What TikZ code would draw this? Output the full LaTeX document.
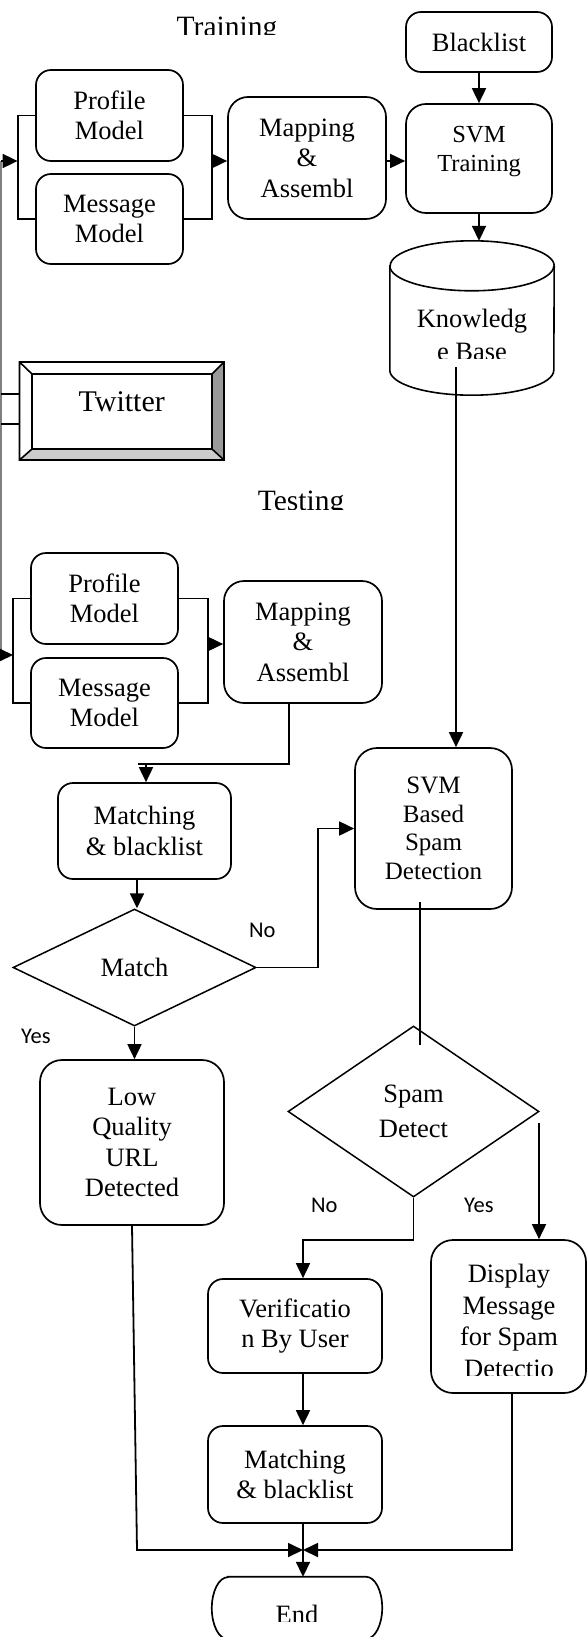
\documentclass[tikz,border=0pt]{standalone}
\usepackage{fontspec}
\setmainfont{Liberation Serif}
\newfontfamily\labelfont{Carlito}
\usetikzlibrary{shapes.geometric,arrows.meta,calc}

\tikzset{
  fs/.style={font=\fontsize{26.5}{30.5}\selectfont},
  box/.style={draw, rounded corners=15pt, line width=1.7pt, inner sep=0pt, align=center, fill=white, fs},
  decision/.style={draw, diamond, line width=1.5pt, inner sep=0pt, align=center, fs},
  plain/.style={inner sep=0pt, align=center, fs},
  title/.style={inner sep=0pt, anchor=base, font=\fontsize{29.5}{34}\selectfont},
  yesno/.style={inner sep=0pt, anchor=base west, font=\labelfont\fontsize{22.5}{26}\selectfont},
  conn/.style={line width=1.8pt},
  arr/.style={conn, -{Triangle[length=15pt,width=14pt]}},
  feed/.style={line width=1.8pt, draw=black!50},
}

\begin{document}
\begin{tikzpicture}[x=1pt,y=-1pt]
\useasboundingbox (0,0) rectangle (587,1637);
\fill[white] (0,0) rectangle (587,1637);

% ---------- training part ----------
\begin{scope}
  \clip (140,0) rectangle (320,35);
  \node[title] (trainlbl) at (227,36.5) {Training};
\end{scope}

\node[box, minimum width=146pt, minimum height=60pt] (blacklist) at (479,42) {Blacklist};
\node[box, minimum width=147pt, minimum height=91pt] (profT) at (109.5,115.5) {Profile\\Model};
\node[box, minimum width=147pt, minimum height=90pt] (msgT) at (109.5,219) {Message\\Model};
\node[box, rounded corners=20pt, minimum width=158pt, minimum height=122pt] (mapT) at (307,158) {Mapping\\\&\\Assembl};
\node[box, rounded corners=20pt, minimum width=146pt, minimum height=109pt,
      font=\fontsize{24.5}{29}\selectfont, text depth=18.3pt] (svmT) at (479,158.5) {SVM\\Training};

% knowledge base cylinder
\node[minimum width=164pt, minimum height=104pt, inner sep=0pt] (kb) at (472,318) {};
\filldraw[fill=white, line width=1.6pt] (kb.north west) -- (kb.south west)
  arc[start angle=180, end angle=360, x radius=82pt, y radius=25pt] -- (kb.north east)
  arc[start angle=0, end angle=180, x radius=82pt, y radius=25pt] -- cycle;
\draw[line width=1.6pt] (kb.north west) arc[start angle=180, end angle=360, x radius=82pt, y radius=25pt];
\coordinate (kbtop) at ([yshift=25pt]kb.north);
\begin{scope}
  \clip (380,292) rectangle (564,358);
  \node[plain] (kbtext) at (472,334.75) {Knowledg\\[2.5pt]e Base};
\end{scope}
\coordinate (kbout) at (456,367);

% Twitter source with bevelled frame
\coordinate (oNW) at (19.5,362); \coordinate (oNE) at (224,362);
\coordinate (oSE) at (224,460);  \coordinate (oSW) at (19.5,460);
\coordinate (iNW) at (32,374);   \coordinate (iNE) at (212,374);
\coordinate (iSE) at (212,449);  \coordinate (iSW) at (32,449);
\fill[white] (oNW) rectangle (oSE);
\fill[black!40] (oNE) -- (oSE) -- (iSE) -- (iNE) -- cycle;
\fill[black!20] (oSW) -- (oSE) -- (iSE) -- (iSW) -- cycle;
\draw[line width=1.6pt] (oNW) rectangle (oSE) (iNW) rectangle (iSE)
  (oNW) -- (iNW) (oNE) -- (iNE) (oSE) -- (iSE) (oSW) -- (iSW);
\node[inner sep=0pt, minimum width=204.5pt, minimum height=98pt,
      font=\fontsize{30}{34}\selectfont, text depth=18.5pt] (tw) at (121.75,411) {Twitter};

% ---------- testing part ----------
\begin{scope}
  \clip (230,480) rectangle (380,509.5);
  \node[title] (testlbl) at (301,510.5) {Testing};
\end{scope}

\node[box, minimum width=147pt, minimum height=91pt] (profS) at (104.5,598.5) {Profile\\Model};
\node[box, minimum width=147pt, minimum height=90pt] (msgS) at (104.5,703) {Message\\Model};
\node[box, rounded corners=20pt, minimum width=158pt, minimum height=122pt] (mapS) at (303,642) {Mapping\\\&\\Assembl};
\node[box, minimum width=173pt, minimum height=96pt] (match1) at (144.5,831) {Matching\\\& blacklist};
\node[decision, minimum width=243pt, minimum height=117pt] (matchD) at (134.5,967.5) {Match};
\node[box, rounded corners=22pt, minimum width=157pt, minimum height=161pt,
      font=\fontsize{25}{28.5}\selectfont] (svmB) at (433.5,828.5) {SVM\\Based\\Spam\\Detection};
\node[box, rounded corners=22pt, minimum width=184pt, minimum height=165pt] (lowQ) at (132,1142.5) {Low\\Quality\\URL\\Detected};
\node[decision, minimum width=251pt, minimum height=171pt] (spamD) at (413.5,1111.5) {Spam\\[4.5pt]Detect};
\node[box, rounded corners=22pt, minimum width=155pt, minimum height=153pt] (display) at (508.5,1316.5) {};
\begin{scope}
  \clip (425,1250) rectangle (590,1375.5);
  \node[plain, font=\fontsize{26.5}{31.5}\selectfont] (displaytext) at (509,1321) {Display\\Message\\for Spam\\Detectio};
\end{scope}
\node[box, minimum width=174pt, minimum height=94pt] (verif) at (295,1326) {Verificatio\\n By User};
\node[box, minimum width=174pt, minimum height=97pt] (match2) at (295,1474.5) {Matching\\\& blacklist};

% terminal
\node[minimum width=170pt, minimum height=62pt, inner sep=0pt] (end) at (297,1608) {};
\filldraw[fill=white, line width=1.7pt] ([xshift=16pt]end.north west) -- ([xshift=-16pt]end.north east)
  arc[start angle=90, end angle=-90, x radius=16pt, y radius=31pt] -- ([xshift=16pt]end.south west)
  arc[start angle=270, end angle=90, x radius=16pt, y radius=31pt] -- cycle;
\begin{scope}
  \clip (200,1590) rectangle (400,1621);
  \node[plain, anchor=base] (endtext) at (297,1623) {End};
\end{scope}

% branch labels
\node[yesno] (no1) at (249,937) {No};
\node[yesno] (yes1) at (21,1043) {Yes};
\node[yesno] (no2) at (311,1212) {No};
\node[yesno] (yes2) at (464,1212) {Yes};

% ---------- connectors ----------
\coordinate (in1) at (1,161);
\coordinate (in2) at (1,655);
\coordinate (tbl) at (17.6,161);
\coordinate (tbr) at (212,161);
\coordinate (sbl) at (13,655);
\coordinate (sbr) at (208,644);
\coordinate (tw1) at ([yshift=17pt]tw.west);
\coordinate (tw2) at ([yshift=-13pt]tw.west);

\draw[feed] (in1) -- (in2);
\draw[conn] (tw1 -| in1) -- (tw1);
\draw[conn] (tw2 -| in1) -- (tw2);

% training flow
\draw[arr] (in1) -- (tbl);
\draw[conn] (profT.west) -| (tbl) |- (msgT.west);
\draw[conn] (profT.east) -| (tbr) |- (msgT.east);
\draw[arr] (tbr) -- (tbr -| mapT.west);
\draw[arr] (mapT.east |- tbr) -- (svmT.west |- tbr);
\draw[arr] (blacklist.south) -- (svmT.north);
\draw[arr] (svmT.south) -- (svmT.south |- kbtop);
\draw[arr] (kbout) -- (kbout |- svmB.north);

% testing flow
\draw[arr] (in2) -- (sbl);
\draw[conn] (profS.west) -| (sbl) |- (msgS.west);
\draw[conn] (profS.east) -| (sbr) |- (msgS.east);
\draw[arr] (sbr) -- (sbr -| mapS.west);

\coordinate (mjog) at (289,764);
\coordinate (mjogend) at (138,764);
\coordinate (mhead) at (146,764);
\draw[conn] (mapS.south -| mjog) -- (mjog) -- (mjogend);
\draw[arr] (mhead) -- (mhead |- match1.north);

\coordinate (mx) at (137,900);
\draw[arr] (match1.south -| mx) -- (matchD.north -| mx);

\coordinate (nojog) at (318,900);
\draw[arr] (matchD.east) -| (nojog |- svmB.west) -- (svmB.west);

\coordinate (sd1) at (420,902);
\coordinate (sd2) at (420,1045);
\draw[conn] (sd1) -- (sd2);

\draw[arr] (matchD.south) -- (matchD.south |- lowQ.north);

\coordinate (sy) at (539,1123);
\draw[arr] (sy) -- (sy |- display.north);

\coordinate (vx) at (303,1240);
\draw[arr] (spamD.south) |- (vx) -- (vx |- verif.north);
\draw[arr] (verif.south -| vx) -- (match2.north -| vx);
\draw[arr] (match2.south -| vx) -- (end.north -| vx);

\coordinate (jn) at (303,1550);
\coordinate (lowbend) at (137,1550);
\draw[arr] (lowQ.south) -- (lowbend) -- (jn);
\coordinate (dx) at (512,1400);
\draw[arr] (display.south -| dx) |- (jn);

\end{tikzpicture}
\end{document}
